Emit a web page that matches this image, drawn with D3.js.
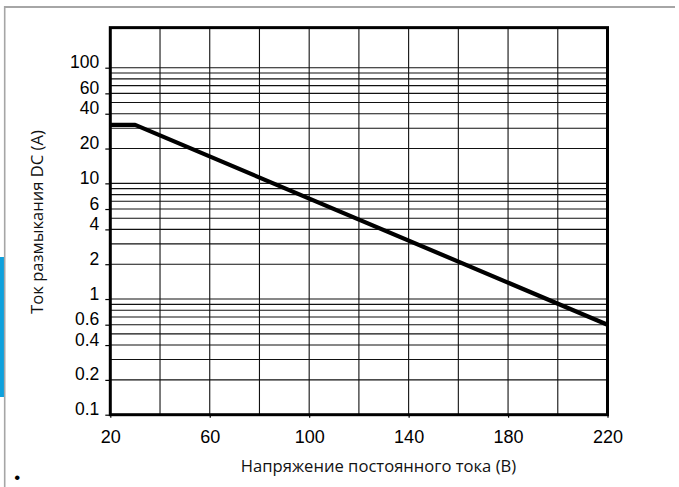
<!DOCTYPE html>
<html>
<head>
<meta charset="utf-8">
<script src="https://cdn.jsdelivr.net/npm/d3@7"></script>
<style>
  html, body { margin: 0; padding: 0; background: #fff; }
  svg { display: block; }
</style>
</head>
<body>
<svg id="chart" width="679" height="487"></svg>
<script>
// breaking current vs DC voltage
var voltage = [20, 30, 220];
var current = [32, 32, 0.6];

var xTicks = [20, 60, 100, 140, 180, 220];
var xGrid = [20, 40, 60, 80, 100, 120, 140, 160, 180, 200, 220];
var yTicks = [100, 60, 40, 20, 10, 6, 4, 2, 1, 0.6, 0.4, 0.2, 0.1];
var yGrid = [0.1, 0.2, 0.3, 0.4, 0.5, 0.6, 0.7, 0.8, 0.9,
             1, 2, 3, 4, 5, 6, 7, 8, 9,
             10, 20, 30, 40, 50, 60, 70, 80, 90, 100];
var yTop = 222;

var svg = d3.select("#chart"),
    left = 110.3, right = 607.5,
    top = 27.5, bottom = 414.7;

// page decoration: grey frame and blue side tab
svg.append("rect")
    .attr("x", 0).attr("y", 257)
    .attr("width", 4).attr("height", 140)
    .attr("fill", "#0ea1dd");
svg.append("line")
    .attr("x1", 4.7).attr("x2", 4.7)
    .attr("y1", 6).attr("y2", 487)
    .attr("stroke", "#a6a6a6").attr("stroke-width", 1.6);
svg.append("line")
    .attr("x1", 4).attr("x2", 675)
    .attr("y1", 7).attr("y2", 7)
    .attr("stroke", "#a6a6a6").attr("stroke-width", 2);

var xScale = d3.scaleLinear().domain([20, 220]).range([left, right]);
var yScale = d3.scaleLog().domain([0.1, 100]).range([bottom, 67.7]);

var g = svg.append("g");

// gridlines
g.selectAll(".vgrid")
    .data(xGrid).enter().append("line")
    .attr("class", "vgrid")
    .attr("x1", function (d) { return xScale(d); })
    .attr("x2", function (d) { return xScale(d); })
    .attr("y1", yScale(yTop)).attr("y2", bottom)
    .attr("stroke", "#111").attr("stroke-width", 1.1);

g.selectAll(".hgrid")
    .data(yGrid).enter().append("line")
    .attr("class", "hgrid")
    .attr("x1", left).attr("x2", right)
    .attr("y1", function (d) { return yScale(d); })
    .attr("y2", function (d) { return yScale(d); })
    .attr("stroke", "#111").attr("stroke-width", 1.1);

// axes
var xAxis = d3.axisBottom(xScale)
    .tickValues(xTicks)
    .tickSize(3)
    .tickPadding(13)
    .tickFormat(d3.format("d"));

var yAxis = d3.axisLeft(yScale)
    .tickValues(yTicks)
    .tickSize(5)
    .tickPadding(6)
    .tickFormat(function (d) { return String(d); });

var gx = g.append("g")
    .attr("transform", "translate(0," + bottom + ")")
    .call(xAxis);
gx.select(".domain").remove();
gx.selectAll("line").attr("stroke", "#000").attr("stroke-width", 1.2);
gx.selectAll("text")
    .attr("fill", "#000")
    .style("font-family", "'Liberation Sans', Arial, sans-serif")
    .style("font-size", "18px");

var gy = g.append("g")
    .attr("transform", "translate(" + left + ",0)")
    .call(yAxis);
gy.select(".domain").remove();
gy.selectAll("line").attr("stroke", "#000").attr("stroke-width", 1.2);
gy.selectAll("text")
    .attr("fill", "#000")
    .attr("dy", 0)
    .style("font-family", "'Liberation Sans', Arial, sans-serif")
    .style("font-size", "17.5px");

// curve
var line = d3.line()
    .x(function (d, i) { return xScale(voltage[i]); })
    .y(function (d) { return yScale(d); });

g.append("path")
    .datum(current)
    .attr("d", line)
    .attr("fill", "none")
    .attr("stroke", "#000")
    .attr("stroke-width", 4.2)
    .attr("stroke-linejoin", "round");

// frame
g.append("rect")
    .attr("x", left).attr("y", yScale(yTop))
    .attr("width", right - left)
    .attr("height", bottom - yScale(yTop))
    .attr("fill", "none")
    .attr("stroke", "#000")
    .attr("stroke-width", 3);

// axis titles
svg.append("text")
    .attr("x", 378.5)
    .attr("y", 472)
    .attr("text-anchor", "middle")
    .style("font-family", "'Open Sans', sans-serif")
    .style("font-size", "16.6px")
    .attr("fill", "#111")
    .text("Напряжение постоянного тока (В)");

svg.append("text")
    .attr("transform", "translate(43,222) rotate(-90)")
    .attr("text-anchor", "middle")
    .style("font-family", "'Open Sans', sans-serif")
    .style("font-size", "16.6px")
    .attr("fill", "#111")
    .text("Ток размыкания DC (A)");

svg.append("text")
    .attr("x", 17.3).attr("y", 483)
    .attr("text-anchor", "middle")
    .style("font-family", "'Liberation Sans', Arial, sans-serif")
    .style("font-size", "17px")
    .text("•");
</script>
</body>
</html>
